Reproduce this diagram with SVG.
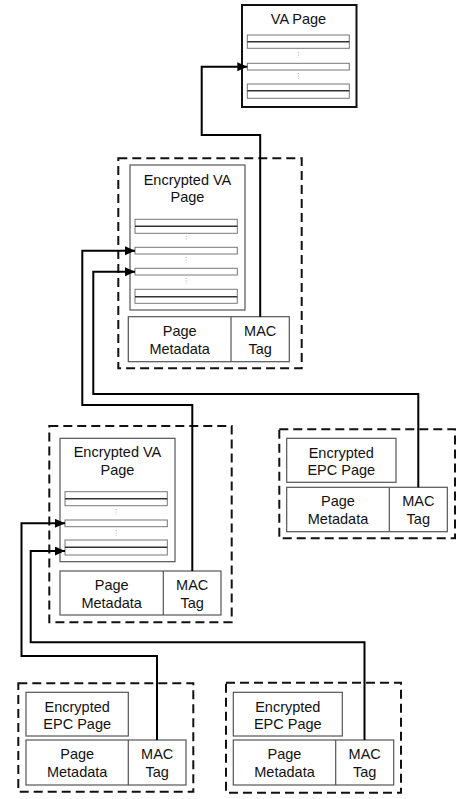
<svg xmlns="http://www.w3.org/2000/svg" width="458" height="799" viewBox="0 0 458 799">
<defs>
<style>
.t{font-family:"Liberation Sans",Arial,sans-serif;font-size:14.5px;fill:#111;text-anchor:middle}
.dash{fill:none;stroke:#111;stroke-width:2;stroke-dasharray:9 5}
.box{fill:#fff;stroke:#555;stroke-width:1.2}
.va{fill:#fff;stroke:#111;stroke-width:2}
.slot{fill:#fff;stroke:#777;stroke-width:1}
.mid{stroke:#333;stroke-width:1.5}
.dots{stroke:#aaa;stroke-width:1;stroke-dasharray:1 1.5}
.conn{fill:none;stroke:#000;stroke-width:2}
</style>
<marker id="ah" markerUnits="userSpaceOnUse" markerWidth="11" markerHeight="10" refX="10" refY="4.5" orient="auto">
<path d="M0,0 L10,4.5 L0,9 z" fill="#000"/>
</marker>
</defs>
<rect width="458" height="799" fill="#fff"/>

<g id="va-page">
<rect class="va" x="242" y="5" width="114.5" height="102"/>
<text class="t" x="298.5" y="23.5">VA Page</text>
<rect class="slot" x="247.3" y="35" width="102" height="13.3"/>
<line class="mid" x1="247.3" y1="41.7" x2="349.3" y2="41.7"/>
<line class="dots" x1="298.3" y1="52" x2="298.3" y2="57.5"/>
<rect class="slot" x="247.3" y="63.3" width="102" height="6.7"/>
<line class="dots" x1="298.3" y1="73" x2="298.3" y2="78.5"/>
<rect class="slot" x="247.3" y="84" width="102" height="14.3"/>
<line class="mid" x1="247.3" y1="90.7" x2="349.3" y2="90.7"/>
</g>

<g id="enc-va-1">
<rect class="dash" x="118.3" y="158.3" width="183.4" height="210"/>
<rect class="box" x="130" y="165" width="115" height="145"/>
<text class="t" x="187.5" y="185">Encrypted VA</text>
<text class="t" x="187.5" y="201.7">Page</text>
<rect class="slot" x="135" y="219.3" width="102.3" height="14"/>
<line class="mid" x1="135" y1="226.3" x2="237.3" y2="226.3"/>
<line class="dots" x1="186.2" y1="236" x2="186.2" y2="241"/>
<rect class="slot" x="135" y="247.3" width="102.3" height="6.7"/>
<line class="dots" x1="186.2" y1="257" x2="186.2" y2="262.5"/>
<rect class="slot" x="135" y="268.3" width="102.3" height="6.7"/>
<line class="dots" x1="186.2" y1="278" x2="186.2" y2="283.5"/>
<rect class="slot" x="135" y="289.3" width="102.3" height="14"/>
<line class="mid" x1="135" y1="296.7" x2="237.3" y2="296.7"/>
<rect class="box" x="128.3" y="316.7" width="161" height="45"/>
<line class="box" x1="231" y1="316.7" x2="231" y2="361.7"/>
<text class="t" x="179.7" y="335.5">Page</text>
<text class="t" x="179.7" y="353.5">Metadata</text>
<text class="t" x="260.2" y="335.5">MAC</text>
<text class="t" x="260.2" y="353.5">Tag</text>
</g>

<g id="epc-right">
<rect class="dash" x="279.3" y="429.3" width="175.7" height="109"/>
<rect class="box" x="286.7" y="438.3" width="109.3" height="44"/>
<text class="t" x="341.3" y="457.5">Encrypted</text>
<text class="t" x="341.3" y="474.5">EPC Page</text>
<rect class="box" x="286.7" y="487.3" width="160.6" height="44.4"/>
<line class="box" x1="389.3" y1="487.3" x2="389.3" y2="531.7"/>
<text class="t" x="338" y="506">Page</text>
<text class="t" x="338" y="524">Metadata</text>
<text class="t" x="418.3" y="506">MAC</text>
<text class="t" x="418.3" y="524">Tag</text>
</g>

<g id="enc-va-2">
<rect class="dash" x="49.3" y="426" width="182.4" height="196.3"/>
<rect class="box" x="60" y="438.3" width="115" height="123.4"/>
<text class="t" x="117.5" y="457">Encrypted VA</text>
<text class="t" x="117.5" y="475">Page</text>
<rect class="slot" x="65" y="491.7" width="102.3" height="14"/>
<line class="mid" x1="65" y1="498.7" x2="167.3" y2="498.7"/>
<line class="dots" x1="116.2" y1="509" x2="116.2" y2="514.5"/>
<rect class="slot" x="65" y="520" width="102.3" height="6.7"/>
<line class="dots" x1="116.2" y1="530" x2="116.2" y2="535.5"/>
<rect class="slot" x="65" y="540" width="102.3" height="15"/>
<line class="mid" x1="65" y1="547.3" x2="167.3" y2="547.3"/>
<rect class="box" x="60" y="571" width="161" height="44"/>
<line class="box" x1="163.3" y1="571" x2="163.3" y2="615"/>
<text class="t" x="111.7" y="589.5">Page</text>
<text class="t" x="111.7" y="607.5">Metadata</text>
<text class="t" x="192.2" y="589.5">MAC</text>
<text class="t" x="192.2" y="607.5">Tag</text>
</g>

<g id="epc-bottom-left">
<rect class="dash" x="18.3" y="683.3" width="175" height="108.4"/>
<rect class="box" x="26" y="692.3" width="102.3" height="43.7"/>
<text class="t" x="77.2" y="711.7">Encrypted</text>
<text class="t" x="77.2" y="728.5">EPC Page</text>
<rect class="box" x="26" y="740" width="160" height="45"/>
<line class="box" x1="128.3" y1="740" x2="128.3" y2="785"/>
<text class="t" x="77.2" y="758.5">Page</text>
<text class="t" x="77.2" y="777">Metadata</text>
<text class="t" x="157.2" y="758.5">MAC</text>
<text class="t" x="157.2" y="777">Tag</text>
</g>

<g id="epc-bottom-right">
<rect class="dash" x="226" y="682.7" width="175" height="110"/>
<rect class="box" x="233.3" y="692.3" width="109" height="43.7"/>
<text class="t" x="287.8" y="711.7">Encrypted</text>
<text class="t" x="287.8" y="728.5">EPC Page</text>
<rect class="box" x="233.3" y="740" width="160.4" height="45"/>
<line class="box" x1="335.7" y1="740" x2="335.7" y2="785"/>
<text class="t" x="284.5" y="758.5">Page</text>
<text class="t" x="284.5" y="777">Metadata</text>
<text class="t" x="364.7" y="758.5">MAC</text>
<text class="t" x="364.7" y="777">Tag</text>
</g>

<g id="connectors">
<path class="conn" marker-end="url(#ah)" d="M260.2,316.7 V135 H201.7 V66.7 H247.3"/>
<path class="conn" marker-end="url(#ah)" d="M192.3,571 V405 H82.3 V250.7 H135"/>
<path class="conn" marker-end="url(#ah)" d="M418.3,487.3 V394 H93.3 V271.7 H135"/>
<path class="conn" marker-end="url(#ah)" d="M157,740 V656 H21.5 V523.3 H65"/>
<path class="conn" marker-end="url(#ah)" d="M364.5,740 V642.3 H30.7 V551 H65"/>
</g>
</svg>
